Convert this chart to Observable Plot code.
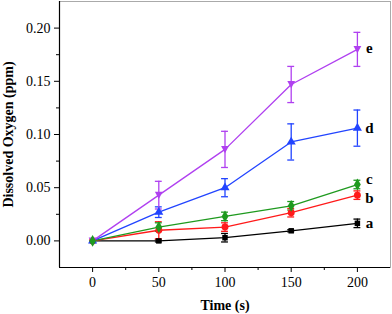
<!DOCTYPE html>
<html><head><meta charset="utf-8">
<script src="https://cdn.jsdelivr.net/npm/d3@7"></script>
<script src="https://cdn.jsdelivr.net/npm/@observablehq/plot@0.6"></script>
<style>body{margin:0;background:#fff} svg text{font-family:"Liberation Serif",serif !important}</style>
</head><body><div id="chart"></div>
<script>
const times = [0, 50, 100, 150, 200];
const seriesNames = ["a", "b", "c", "d", "e"];
const valsA = [0, 0.0, 0.003, 0.0095, 0.0165];
const errA  = [0, 0.001, 0.004, 0.001, 0.004];
const valsB = [0, 0.010, 0.013, 0.0265, 0.043];
const errB  = [0, 0.008, 0.004, 0.004, 0.004];
const valsC = [0, 0.013, 0.023, 0.033, 0.053];
const errC  = [0, 0.004, 0.004, 0.004, 0.004];
const valsD = [0, 0.027, 0.050, 0.093, 0.106];
const errD  = [0, 0.005, 0.0085, 0.017, 0.017];
const valsE = [0, 0.043, 0.086, 0.147, 0.180];
const errE  = [0, 0.013, 0.017, 0.017, 0.016];
const labelShift = {a: 0, b: 3, c: -5, d: 0, e: -1};
const xTicks = [0, 50, 100, 150, 200];
const yTicks = [0, 0.05, 0.10, 0.15, 0.20];

const colors = {a: "#000000", b: "#ff1a1a", c: "#1f9a1f", d: "#2244ff", e: "#b040f0"};
const triDown = {draw(ctx, size) {
  const h = Math.sqrt(size * 0.9), w = h * 0.62;
  ctx.moveTo(-w, -h * 0.55); ctx.lineTo(w, -h * 0.55); ctx.lineTo(0, h * 0.6); ctx.closePath();
}};
const symbols = {a: "square", b: "circle", c: "diamond", d: "triangle", e: triDown};
const sizes = {a: 30, b: 38, c: 40, d: 36, e: 44};

const allVals = {a: valsA, b: valsB, c: valsC, d: valsD, e: valsE};
const allErr = {a: errA, b: errB, c: errC, d: errD, e: errE};
const rows = [];
for (const s of seriesNames) times.forEach((t, i) => rows.push({s, t, v: allVals[s][i], e: allErr[s][i]}));
const font = "Liberation Serif";

const marks = [
  Plot.frame({stroke: "#aaaaaa"}),
  Plot.ruleX([-25], {stroke: "#000", strokeWidth: 1.2}),
  Plot.ruleY([-0.025], {stroke: "#000", strokeWidth: 1.2}),
  Plot.axisX(xTicks, {tickSize: 5, tickPadding: 5, fontSize: 14, fontFamily: font, label: null, tickFormat: d => d, anchor: "bottom"}),
  Plot.axisX([25, 75, 125, 175], {tickSize: 3, text: null, label: null, anchor: "bottom"}),
  Plot.axisY(yTicks, {tickSize: 5, tickPadding: 4, fontSize: 14, fontFamily: font, label: null, tickFormat: d => d.toFixed(2), anchor: "left"}),
  Plot.axisY([0.025, 0.075, 0.125, 0.175], {tickSize: 3, text: null, label: null, anchor: "left"}),
];
const dotMarks = [];
for (const s of seriesNames) {
  const data = rows.filter(r => r.s === s);
  const errData = data.filter(r => r.e > 0);
  marks.push(
    Plot.line(data, {x: "t", y: "v", stroke: colors[s], strokeWidth: 1.3}),
    Plot.ruleX(errData, {x: "t", y1: r => r.v - r.e, y2: r => r.v + r.e, stroke: colors[s], strokeWidth: 1.3}),
    Plot.ruleY(errData, {y: r => r.v + r.e, x1: r => r.t - 2.6, x2: r => r.t + 2.6, stroke: colors[s], strokeWidth: 1.3}),
    Plot.ruleY(errData, {y: r => r.v - r.e, x1: r => r.t - 2.6, x2: r => r.t + 2.6, stroke: colors[s], strokeWidth: 1.3}),
    Plot.text(data.filter(r => r.t === 200), {x: "t", y: "v", text: "s", dx: 12, dy: labelShift[s], fill: "#000", fontSize: 15, fontWeight: "bold", fontFamily: font})
  );
}
for (const s of ["a", "b", "d", "e", "c"]) {
  const data = rows.filter(r => r.s === s);
  dotMarks.push(Plot.dot(data, {x: "t", y: "v", symbol: () => symbols[s], fill: colors[s], r: Math.sqrt(sizes[s] / Math.PI)}));
}

const chart = Plot.plot({
  width: 392, height: 314,
  marginLeft: 59, marginRight: 2, marginTop: 1, marginBottom: 47,
  style: {fontFamily: font, fontSize: "14px", color: "#000", background: "#fff"},
  x: {domain: [-25, 225]},
  y: {domain: [-0.025, 0.225]},
  symbol: {type: "identity"},
  marks: [
    ...marks,
    ...dotMarks,
    Plot.text(["Time (s)"], {frameAnchor: "bottom", textAnchor: "middle", lineAnchor: "middle", dy: 38, fontSize: 14, fontWeight: "bold", fontFamily: font}),
    Plot.text(["Dissolved Oxygen (ppm)"], {frameAnchor: "left", textAnchor: "middle", lineAnchor: "middle", dx: -51, rotate: -90, fontSize: 14, fontWeight: "bold", fontFamily: font})
  ]
});
document.getElementById("chart").appendChild(chart);
</script></body></html>
